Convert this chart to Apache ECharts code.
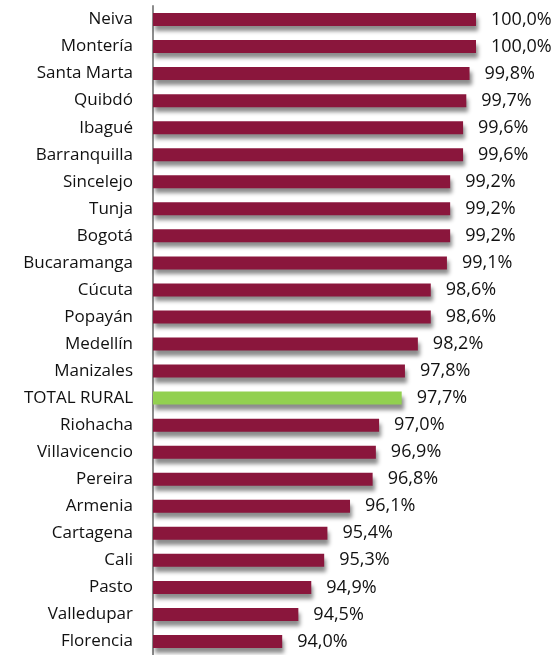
<!DOCTYPE html>
<html>
<head>
<meta charset="utf-8">
<script src="https://cdn.jsdelivr.net/npm/echarts@6/dist/echarts.min.js"></script>
<style>
  html, body { margin: 0; padding: 0; background: #fff; }
  #chart { width: 558px; height: 655px; }
</style>
</head>
<body>
<div id="chart"></div>
<script>
const cities = ['Neiva', 'Montería', 'Santa Marta', 'Quibdó', 'Ibagué', 'Barranquilla', 'Sincelejo', 'Tunja',
  'Bogotá', 'Bucaramanga', 'Cúcuta', 'Popayán', 'Medellín', 'Manizales', 'TOTAL RURAL', 'Riohacha',
  'Villavicencio', 'Pereira', 'Armenia', 'Cartagena', 'Cali', 'Pasto', 'Valledupar', 'Florencia']
const values = [100.0, 100.0, 99.8, 99.7, 99.6, 99.6, 99.2, 99.2, 99.2, 99.1, 98.6, 98.6, 98.2, 97.8,
  97.7, 97.0, 96.9, 96.8, 96.1, 95.4, 95.3, 94.9, 94.5, 94.0]
const highlight = 'TOTAL RURAL'

const chart = echarts.init(document.getElementById('chart'))

const option = {
  animation: false,
  grid: { left: 153, top: 6, width: 323, height: 652 },
  xAxis: {
    type: 'value',
    min: 90,
    max: 100,
    show: false
  },
  yAxis: {
    type: 'category',
    inverse: true,
    data: cities,
    axisLine: { show: true, lineStyle: { color: '#8c8c8c', width: 2 } },
    axisTick: { show: false },
    axisLabel: {
      margin: 20,
      color: '#111',
      fontSize: 17,
      fontFamily: 'Open Sans'
    }
  },
  series: [{
    type: 'bar',
    barWidth: 13,
    data: values.map((v, i) => ({
      value: v,
      itemStyle: { color: cities[i] === highlight ? '#92D050' : '#8A163C' }
    })),
    itemStyle: {
      shadowColor: 'rgba(0,0,0,0.45)',
      shadowBlur: 4,
      shadowOffsetX: 2,
      shadowOffsetY: 5
    },
    label: {
      show: true,
      position: 'right',
      distance: 15,
      color: '#111',
      fontSize: 18,
      fontFamily: 'Open Sans',
      formatter: p => p.value.toFixed(1).replace('.', ',') + '%'
    }
  }]
}

chart.setOption(option)
</script>
</body>
</html>
